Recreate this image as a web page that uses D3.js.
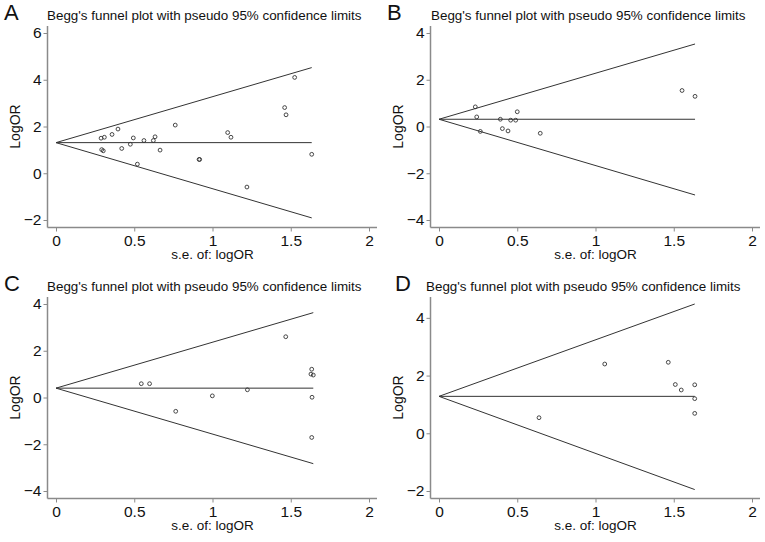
<!DOCTYPE html>
<html>
<head>
<meta charset="utf-8">
<script src="https://cdn.jsdelivr.net/npm/d3@7"></script>
<style>
  html, body { margin: 0; padding: 0; background: #fff; }
  svg { display: block; font-family: "Liberation Sans", Arial, Helvetica, sans-serif; }
</style>
</head>
<body>
<svg id="chart" width="765" height="542"></svg>
<script>
// ---------- DATA ----------
const panelLetters = ["A", "B", "C", "D"];
const titleText = "Begg's funnel plot with pseudo 95% confidence limits";
const xLabel = "s.e. of: logOR";
const yLabel = "LogOR";
const xTicks = [0, 0.5, 1, 1.5, 2];

// Panel A
const seA    = [0.288, 0.309, 0.358, 0.396, 0.292, 0.302, 0.420, 0.475, 0.494, 0.520, 0.562, 0.622, 0.633, 0.665, 0.762, 0.914, 0.918, 1.097, 1.118, 1.220, 1.461, 1.470, 1.525, 1.634];
const logorA = [1.50, 1.54, 1.66, 1.89, 1.01, 0.96, 1.06, 1.24, 1.51, 0.39, 1.40, 1.40, 1.56, 0.99, 2.06, 0.59, 0.59, 1.74, 1.54, -0.59, 2.81, 2.50, 4.10, 0.81];
const yTicksA = [-2, 0, 2, 4, 6];

// Panel B
const seB    = [0.232, 0.241, 0.264, 0.392, 0.405, 0.441, 0.458, 0.490, 0.500, 0.647, 1.553, 1.636];
const logorB = [0.84, 0.41, -0.21, 0.31, -0.09, -0.19, 0.27, 0.27, 0.63, -0.29, 1.54, 1.29];
const yTicksB = [-4, -2, 0, 2, 4];

// Panel C
const seC    = [0.545, 0.598, 0.765, 0.999, 1.223, 1.468, 1.634, 1.629, 1.644, 1.636, 1.634];
const logorC = [0.59, 0.59, -0.59, 0.07, 0.33, 2.60, 1.21, 1.00, 0.96, 0.01, -1.71];
const yTicksC = [-4, -2, 0, 2, 4];

// Panel D
const seD    = [0.639, 1.059, 1.465, 1.510, 1.548, 1.634, 1.634, 1.634];
const logorD = [0.54, 2.40, 2.46, 1.69, 1.50, 1.68, 1.20, 0.69];
const yTicksD = [-2, 0, 2, 4];

// Funnel (pooled estimate and pseudo 95% limits at the largest s.e.)
const pooled     = [1.31, 0.31, 0.40, 1.28];
const seMax      = [1.634, 1.636, 1.644, 1.634];
const upperLimit = [4.52, 3.53, 3.63, 4.48];
const lowerLimit = [-1.91, -2.93, -2.83, -1.95];

// y-axis extents (min of ticks/data, max of ticks/data)
const yMin = [-2, -4, -4, -2];
const yMax = [6, 4, 4, 4.48];

// ---------- LAYOUT ----------
const seList = [seA, seB, seC, seD];
const logorList = [logorA, logorB, logorC, logorD];
const yTickList = [yTicksA, yTicksB, yTicksC, yTicksD];
const offsets = [[0, 0], [383, 0], [0, 271], [383, 271]];
const letterX = [4, 4, 4, 12];
const titleX = [47, 48, 47, 43];

const plotLeft = 56, plotRight = 369, plotTop = 33, plotBottom = 220;
const axisX = 47.5, axisY = 227.5;
const axisColor = "#8a8a8a";
const lineColor = "#333";

const svg = d3.select("#chart");

panelLetters.forEach((letter, i) => {
  const g = svg.append("g").attr("transform", `translate(${offsets[i][0]},${offsets[i][1]})`);
  const x = d3.scaleLinear().domain([0, 2]).range([plotLeft, plotRight]);
  const y = d3.scaleLinear().domain([yMin[i], yMax[i]]).range([plotBottom, plotTop]);

  // Letter & title
  g.append("text").attr("x", letterX[i]).attr("y", 20)
    .attr("font-size", 22).attr("fill", "#111").text(letter);
  g.append("text").attr("x", titleX[i]).attr("y", 20)
    .attr("font-size", 13.4).attr("fill", "#111").text(titleText);

  // Axes
  const xAxis = d3.axisBottom(x).tickValues(xTicks).tickSize(4).tickPadding(3)
    .tickFormat(d => d3.format("")(d));
  const gx = g.append("g").attr("transform", `translate(0,${axisY})`).call(xAxis);
  gx.select(".domain").remove();
  gx.append("line").attr("x1", axisX).attr("x2", plotRight + 8).attr("y1", 0).attr("y2", 0)
    .attr("stroke", axisColor).attr("stroke-width", 1.5);
  gx.selectAll(".tick line").attr("stroke", axisColor);
  gx.selectAll(".tick text").attr("font-size", 15.5).attr("fill", "#111")
    .attr("font-family", "'Liberation Sans', Arial, sans-serif");

  const yAxis = d3.axisLeft(y).tickValues(yTickList[i]).tickSize(4).tickPadding(2)
    .tickFormat(d => d3.format("")(d));
  const gy = g.append("g").attr("transform", `translate(${axisX},0)`).call(yAxis);
  gy.select(".domain").remove();
  gy.append("line").attr("x1", 0).attr("x2", 0).attr("y1", plotTop - 7).attr("y2", axisY)
    .attr("stroke", axisColor).attr("stroke-width", 1.5);
  gy.selectAll(".tick line").attr("stroke", axisColor);
  gy.selectAll(".tick text").attr("font-size", 15.5).attr("fill", "#111")
    .attr("font-family", "'Liberation Sans', Arial, sans-serif");

  // Axis titles
  g.append("text").attr("x", (plotLeft + plotRight) / 2).attr("y", 259)
    .attr("text-anchor", "middle").attr("font-size", 13.5).attr("fill", "#111").text(xLabel);
  g.append("text")
    .attr("transform", `translate(20,${(plotTop + plotBottom) / 2}) rotate(-90)`)
    .attr("text-anchor", "middle").attr("font-size", 14).attr("fill", "#111").text(yLabel);

  // Funnel lines
  const lines = [
    [[0, pooled[i]], [seMax[i], upperLimit[i]]],
    [[0, pooled[i]], [seMax[i], pooled[i]]],
    [[0, pooled[i]], [seMax[i], lowerLimit[i]]]
  ];
  const lineGen = d3.line().x(d => x(d[0])).y(d => y(d[1]));
  g.selectAll("path.funnel").data(lines).enter().append("path")
    .attr("class", "funnel")
    .attr("d", lineGen).attr("fill", "none")
    .attr("stroke", lineColor).attr("stroke-width", 1);

  // Points
  const pts = seList[i].map((s, k) => ({ se: s, v: logorList[i][k] }));
  g.selectAll("circle.pt").data(pts).enter().append("circle")
    .attr("class", "pt")
    .attr("cx", d => x(d.se)).attr("cy", d => y(d.v)).attr("r", 1.9)
    .attr("fill", "none").attr("stroke", "#333").attr("stroke-width", 0.9);
});
</script>
</body>
</html>
